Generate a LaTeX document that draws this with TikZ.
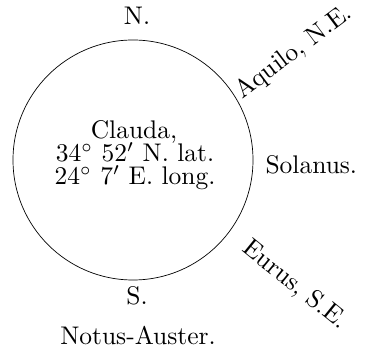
\documentclass[tikz,border=0pt]{standalone}
\begin{document}
\begin{tikzpicture}[x=1pt,y=-1pt,
  lbl/.style={font=\fontsize{10}{9}\selectfont, inner sep=0pt, scale=2.55, transform shape},
  ring/.style={draw, line width=0.7pt}]
\useasboundingbox (0,0) rectangle (368,350);
\node[ring, circle, minimum size=240pt, inner sep=0pt] (c) at (133,160) {};
\node[lbl, anchor=base] (l1) at (134,139) {Clauda,};
\node[lbl, anchor=base] (l2) at (135,162) {34$^{\circ}$ 52$'$ N.\ lat.};
\node[lbl, anchor=base] (l3) at (135,185) {24$^{\circ}$ 7$'$ E.\ long.};
\node[lbl, anchor=base] (n) at (137,25) {N.};
\node[lbl, anchor=base west, rotate=37] (ne) at (242,100) {Aquilo, N.E.};
\node[lbl, anchor=base west] (e) at (265,174) {Solanus.};
\node[lbl, anchor=base west, rotate=-39] (se) at (241,250) {Eurus, S.E.};
\node[lbl, anchor=base] (s) at (137,305) {S.};
\node[lbl, anchor=base] (sn) at (138,345) {Notus-Auster.};
\end{tikzpicture}
\end{document}
